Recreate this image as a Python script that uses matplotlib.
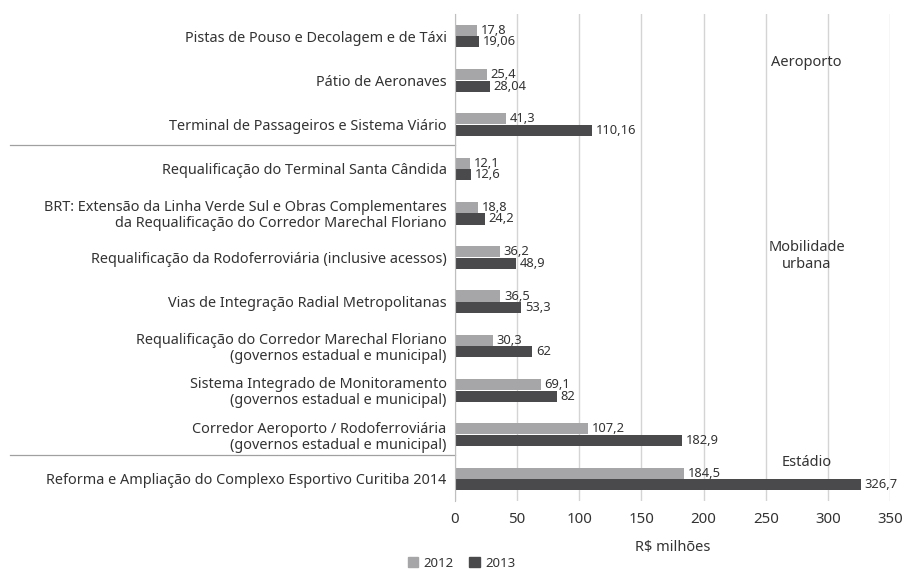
import matplotlib
matplotlib.use('Agg')
import matplotlib.pyplot as plt
import matplotlib.transforms as mtransforms
from matplotlib.patches import Patch
import numpy as np

plt.rcParams['font.family'] = ['Noto Sans', 'DejaVu Sans']

categories = [
    'Pistas de Pouso e Decolagem e de Táxi',
    'Pátio de Aeronaves',
    'Terminal de Passageiros e Sistema Viário',
    'Requalificação do Terminal Santa Cândida',
    'BRT: Extensão da Linha Verde Sul e Obras Complementares\nda Requalificação do Corredor Marechal Floriano',
    'Requalificação da Rodoferroviária (inclusive acessos)',
    'Vias de Integração Radial Metropolitanas',
    'Requalificação do Corredor Marechal Floriano\n(governos estadual e municipal)',
    'Sistema Integrado de Monitoramento\n(governos estadual e municipal)',
    'Corredor Aeroporto / Rodoferroviária\n(governos estadual e municipal)',
    'Reforma e Ampliação do Complexo Esportivo Curitiba 2014',
]
values_2012 = [17.8, 25.4, 41.3, 12.1, 18.8, 36.2, 36.5, 30.3, 69.1, 107.2, 184.5]
values_2013 = [19.06, 28.04, 110.16, 12.6, 24.2, 48.9, 53.3, 62, 82, 182.9, 326.7]

groups = ['Aeroporto', 'Mobilidade\nurbana', 'Estádio']
group_y = [0.59, 4.97, 9.62]
separators_y = [2.46, 9.46]

c2012 = '#a6a6a8'
c2013 = '#4a4a4c'
text_color = '#333333'


def fmt(v):
    return str(v).replace('.', ',')


fig = plt.figure(figsize=(9.05, 5.69), dpi=100)
ax = fig.add_axes([455 / 905, 68 / 569, 435 / 905, 487 / 569])

y = np.arange(len(categories))
h = 0.25
ax.barh(y - 0.13, values_2012, height=h, color=c2012, zorder=3)
ax.barh(y + 0.13, values_2013, height=h, color=c2013, zorder=3)

for yi, v in zip(y, values_2012):
    ax.text(v + 3, yi - 0.13, fmt(v), va='center', ha='left', fontsize=9.3, color=text_color)
for yi, v in zip(y, values_2013):
    ax.text(v + 3, yi + 0.13, fmt(v), va='center', ha='left', fontsize=9.3, color=text_color)

ax.set_xlim(0, 350)
ax.set_ylim(10.5, -0.5)
ax.set_xticks(range(0, 351, 50))
ax.set_yticks(y)
ax.set_yticklabels(categories, fontsize=10.4, color=text_color, linespacing=1.1)
ax.tick_params(axis='y', length=0, pad=6)
ax.tick_params(axis='x', length=0, pad=8, labelsize=10.8, labelcolor=text_color)
ax.grid(axis='x', color='#d4d4d4', linewidth=1, zorder=0)
for s in ['top', 'right', 'bottom']:
    ax.spines[s].set_visible(False)
ax.spines['left'].set_color('#bfbfbf')
ax.spines['left'].set_zorder(4)

ax.set_xlabel('R$ milhões', fontsize=10.5, color=text_color, labelpad=9)

for g, gy in zip(groups, group_y):
    ax.text(283, gy, g, ha='center', va='center', fontsize=10.5, color=text_color,
            linespacing=1.2)

trans = mtransforms.blended_transform_factory(fig.transFigure, ax.transData)
for sy in separators_y:
    ax.plot([10 / 905, 455 / 905], [sy, sy], transform=trans, color='#a0a0a0',
            linewidth=0.9, clip_on=False)

handles = [Patch(color=c2012, label='2012'), Patch(color=c2013, label='2013')]
fig.legend(handles=handles, loc='center', bbox_to_anchor=(0.51, 0.01), ncol=2,
           frameon=False, fontsize=9.5, handlelength=0.8, handleheight=0.8,
           handletextpad=0.4, columnspacing=1.2, labelcolor=text_color)

fig.savefig('out.png', dpi=100)
